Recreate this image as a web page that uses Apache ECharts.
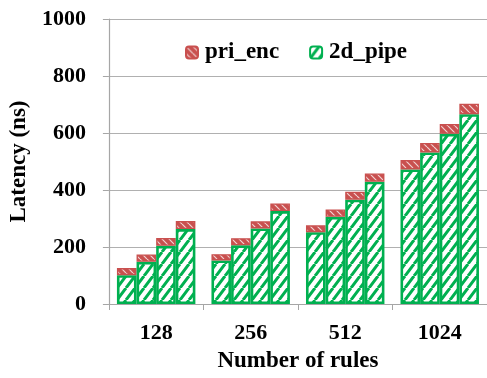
<!DOCTYPE html>
<html>
<head>
<meta charset="utf-8">
<script src="https://cdn.jsdelivr.net/npm/echarts@6/dist/echarts.min.js"></script>
<style>
html,body{margin:0;padding:0;background:#fff;}
#c{width:487px;height:378px;}
</style>
</head>
<body>
<div id="c"></div>
<script>
// ---- data ----
var categories = ['128', '256', '512', '1024'];
// 2d_pipe (green, bottom) for the 4 bars in each group
var pipe1 = [101, 153, 252, 472];
var pipe2 = [148, 206, 306, 532];
var pipe3 = [204, 265, 366, 597];
var pipe4 = [263, 326, 429, 666];
// pri_enc (red, top) for the 4 bars in each group
var enc1 = [25, 22, 24, 33];
var enc2 = [26, 25, 26, 33];
var enc3 = [28, 25, 28, 35];
var enc4 = [28, 27, 29, 37];
var yTicks = [0, 200, 400, 600, 800, 1000];

var GREEN = '#00b050';
var RED = '#c9504f';

function greenPattern() {
  var w = 9, h = 12;
  var c = document.createElement('canvas');
  c.width = w; c.height = h;
  var g = c.getContext('2d');
  g.fillStyle = '#ffffff';
  g.fillRect(0, 0, w, h);
  g.strokeStyle = GREEN;
  g.lineWidth = 3;
  g.beginPath();
  for (var k = -1; k <= 1; k++) {
    g.moveTo(k * w, h);
    g.lineTo(k * w + w, 0);
  }
  g.stroke();
  return c;
}
function redPattern() {
  var w = 7, h = 7;
  var c = document.createElement('canvas');
  c.width = w; c.height = h;
  var g = c.getContext('2d');
  g.fillStyle = RED;
  g.fillRect(0, 0, w, h);
  g.strokeStyle = 'rgba(255,255,255,0.75)';
  g.lineWidth = 1.2;
  g.beginPath();
  for (var k = -1; k <= 1; k++) {
    g.moveTo(k * w, 0);
    g.lineTo(k * w + w, h);
  }
  g.stroke();
  return c;
}
var gp = greenPattern();
var rp = redPattern();

var pipes = [pipe1, pipe2, pipe3, pipe4];
var encs = [enc1, enc2, enc3, enc4];
var series = [];
for (var i = 0; i < 4; i++) {
  series.push({
    name: '2d_pipe', type: 'bar', stack: 's' + i,
    barGap: '0%', barCategoryGap: '17%',
    data: pipes[i],
    itemStyle: { color: { image: gp, repeat: 'repeat' }, borderColor: GREEN, borderWidth: 2.6 },
    emphasis: { disabled: true }
  });
  series.push({
    name: 'pri_enc', type: 'bar', stack: 's' + i,
    barGap: '0%', barCategoryGap: '17%',
    data: encs[i],
    itemStyle: { color: { image: rp, repeat: 'repeat' }, borderColor: RED, borderWidth: 1.4 },
    emphasis: { disabled: true }
  });
}

var FONT = '"Liberation Serif", "Times New Roman", serif';
var chart = echarts.init(document.getElementById('c'), null, { renderer: 'canvas' });
chart.setOption({
  animation: false,
  backgroundColor: '#ffffff',
  grid: { left: 107, top: 19, width: 385, height: 285, containLabel: false },
  legend: {
    data: ['pri_enc', '2d_pipe'],
    left: 180, top: 36,
    itemWidth: 12, itemHeight: 12, itemGap: 30,
    textStyle: { fontFamily: FONT, fontWeight: 'bold', fontSize: 23, color: '#000', padding: [0, 0, 0, 2] }
  },
  xAxis: {
    type: 'category', data: categories,
    name: 'Number of rules', nameLocation: 'middle', nameGap: 46,
    nameTextStyle: { fontFamily: FONT, fontWeight: 'bold', fontSize: 23, color: '#000' },
    axisLine: { lineStyle: { color: '#a6a6a6', width: 1.2 } },
    axisTick: { show: true, length: 6, lineStyle: { color: '#a6a6a6' } },
    axisLabel: { fontFamily: FONT, fontWeight: 'bold', fontSize: 22, color: '#000', margin: 18 }
  },
  yAxis: {
    type: 'value', min: 0, max: 1000, interval: 200,
    name: 'Latency (ns)', nameLocation: 'middle', nameGap: 73, nameRotate: 90,
    nameTextStyle: { fontFamily: FONT, fontWeight: 'bold', fontSize: 23, color: '#000' },
    axisLine: { show: true, lineStyle: { color: '#a6a6a6', width: 1.2 } },
    axisTick: { show: true, length: 6, lineStyle: { color: '#a6a6a6' } },
    axisLabel: {
      fontFamily: FONT, fontWeight: 'bold', fontSize: 22, color: '#000', margin: 23,
      formatter: function (v) { return yTicks.indexOf(v) >= 0 ? String(v) : ''; }
    },
    splitLine: { show: true, lineStyle: { color: '#b0b0b0', width: 1.2 } }
  },
  series: series
});
</script>
</body>
</html>
